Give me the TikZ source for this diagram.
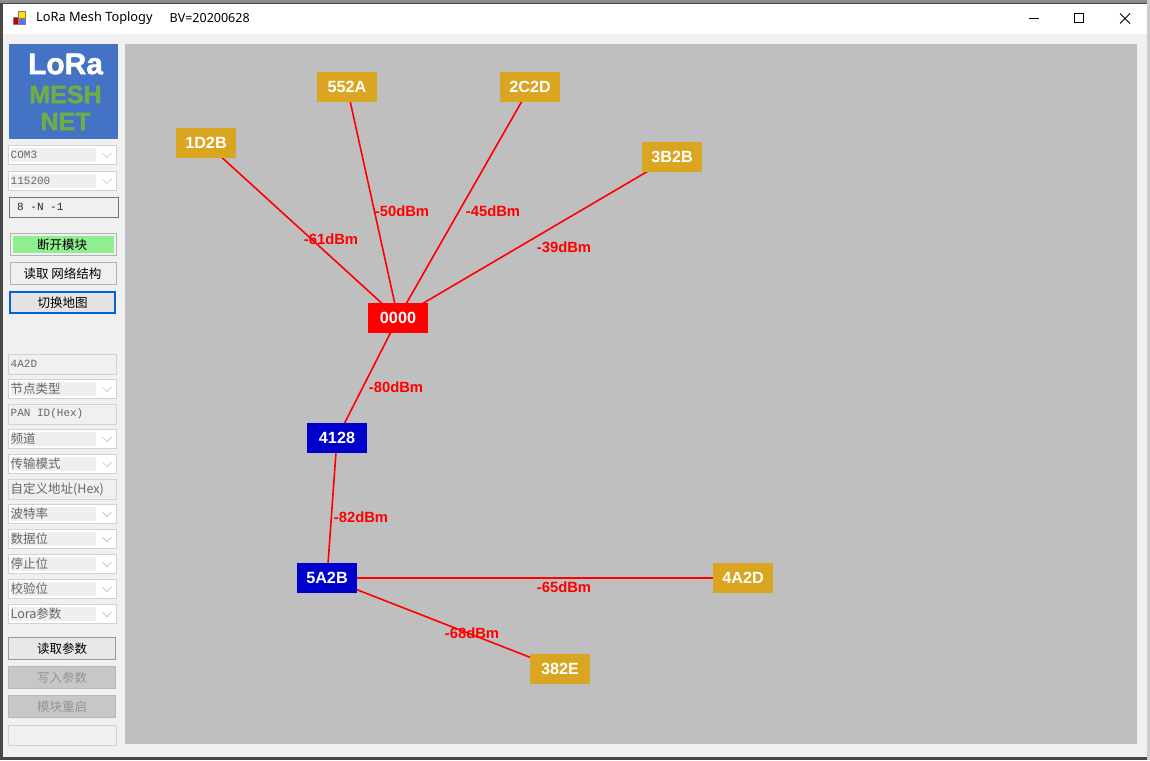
\documentclass[tikz,border=0pt]{standalone}
\usepackage{fontspec}
\setmainfont{Liberation Sans}
\newfontfamily\cjk{Noto Sans CJK SC}
\newfontfamily\monof{Liberation Mono}
\newfontfamily\titlef{Noto Sans}
\newfontfamily\logof[BoldFeatures={FakeBold=1.5}]{Liberation Sans}
\pgfdeclarelayer{chrome}
\pgfdeclarelayer{edges}
\pgfsetlayers{chrome,edges,main}
\definecolor{gold}{HTML}{DAA520}
\definecolor{navy}{HTML}{0000CD}
\definecolor{canvas}{HTML}{BFBFBF}
\definecolor{client}{HTML}{F0F0F0}
\definecolor{fieldline}{HTML}{D2D2D2}
\definecolor{fieldfill}{HTML}{EFEFEF}
\definecolor{logoblue}{HTML}{4472C4}
\definecolor{logogreen}{HTML}{70AD47}
\definecolor{lightgreen}{HTML}{90EE90}
\tikzset{
  netnode/.style={minimum width=60pt,minimum height=30pt,inner sep=0pt,text=white,font=\fontsize{16.2}{16}\selectfont\bfseries},
  leaf/.style={netnode,fill=gold},
  relay/.style={netnode,fill=navy},
  coord/.style={netnode,fill=red},
  link/.style={draw=red,line width=1.6pt},
  rssi/.style={text=red,inner sep=0pt,font=\fontsize{14.8}{14}\selectfont\bfseries},
  fieldtext/.style={anchor=west,inner sep=0pt,text=black!60,font=\fontsize{11}{12}\monof},
  cjktext/.style={anchor=west,inner sep=0pt,text=black!60,font=\fontsize{12.5}{13}\cjk},
  btntext/.style={inner sep=0pt,font=\fontsize{12.5}{13}\cjk},
  box/.style={draw=fieldline,line width=1pt,fill=client},
  combo/.style={draw=fieldline,line width=1pt,fill=white},
  chev/.style={draw=black!25,line width=.7pt}
}
\newcommand{\combobox}[3]{% y, text, style
  \draw[combo] (8.5,#1-9.5) rectangle (116,#1+9.5);
  \fill[fieldfill] (10.5,#1-7) rectangle (96,#1+7);
  \draw[chev] (102.5,#1-2) -- (107,#1+2.5) -- (111.5,#1-2);
  \node[#3] at (10.5,#1) {#2};}
\newcommand{\fieldbox}[2]{%
  \draw[box] (8.5,#1-10) rectangle (116,#1+10);
  \node[fieldtext] at (10.5,#1) {#2};}
\begin{document}
\begin{tikzpicture}[x=1pt,y=-1pt]
\useasboundingbox (0,0) rectangle (1150,760);
\begin{pgfonlayer}{chrome}
\fill[black!72] (0,0) rectangle (1150,760);
\fill[black!45] (0,0) rectangle (1150,3);
\fill[black!20] (1147,0) rectangle (1150,760);
\fill[client] (3,4) rectangle (1147,757);
\fill[white] (3,4) rectangle (1147,34);
% title bar
\fill[red!75!black] (13,17) rectangle (18,24);
\fill[yellow!85!orange] (18,11) rectangle (25,18);
\fill[blue!60] (19,19) rectangle (25,24);
\draw[black!50,line width=.6pt] (13,17) rectangle (18,24) (18,11) rectangle (25,18) (19,19) rectangle (25,24);
\node[anchor=west,inner sep=0pt,font=\fontsize{12.8}{13}\titlef] (wtitle) at (36,18.5) {LoRa Mesh Toplogy};
\node[anchor=west,inner sep=0pt,font=\fontsize{12.5}{13}\titlef] (wver) at (169.5,18.5) {BV=20200628};
\draw[line width=1pt] (1029,18.5) -- (1039,18.5);
\draw[line width=1pt] (1074.5,13.5) rectangle (1083.5,22.5);
\draw[line width=.8pt] (1120,13.5) -- (1130,23.5) (1130,13.5) -- (1120,23.5);
% canvas
\fill[canvas] (125,44) rectangle (1137,744);
% logo
\fill[logoblue] (9,44) rectangle (118,139);
\node[inner sep=0pt,text=white,font=\fontsize{30}{30}\logof\bfseries] (logoa) at (65.5,64) {LoRa};
\node[inner sep=0pt,text=logogreen,font=\fontsize{25}{25}\logof\bfseries] (logob) at (65.5,94.5) {MESH};
\node[inner sep=0pt,text=logogreen,font=\fontsize{25}{25}\logof\bfseries] (logoc) at (65.5,121.5) {NET};
% left controls
\combobox{155}{COM3}{fieldtext}
\combobox{181}{115200}{fieldtext}
\draw[black!55,line width=.8pt,fill=client] (9.5,197.5) rectangle (118.5,217.5);
\node[fieldtext,text=black!85] at (17,207) {8 -N -1};
\draw[black!30,line width=1.2pt,fill=client] (10.5,233.5) rectangle (116.5,255.5);
\fill[lightgreen] (13,236) rectangle (114,253);
\node[btntext] at (62,244.5) {断开模块};
\draw[black!30,line width=1.2pt,fill=black!6] (10.5,262.5) rectangle (116.5,284.5);
\node[btntext] at (62.5,273.5) {读取 网络结构};
\draw[blue!55!cyan!85!black,line width=1.8pt,fill=black!11] (10,292) rectangle (115,313);
\node[btntext] at (62.5,302.5) {切换地图};
\fieldbox{364}{4A2D}
\combobox{389}{节点类型}{cjktext}
\fieldbox{414}{PAN ID(Hex)}
\combobox{439}{频道}{cjktext}
\combobox{464}{传输模式}{cjktext}
\draw[box] (8.5,479.5) rectangle (116,499.5);
\node[cjktext] at (10.5,489.5) {自定义地址(Hex)};
\combobox{514}{波特率}{cjktext}
\combobox{539}{数据位}{cjktext}
\combobox{564}{停止位}{cjktext}
\combobox{589}{校验位}{cjktext}
\combobox{614}{Lora参数}{cjktext}
\draw[black!40,line width=1pt,fill=black!9] (8.5,637.5) rectangle (115,659.5);
\node[btntext] at (62,648.5) {读取参数};
\draw[black!28,line width=1pt,fill=black!22] (8.5,666.5) rectangle (115,688.5);
\node[btntext,text=black!42] at (62,677.5) {写入参数};
\draw[black!28,line width=1pt,fill=black!22] (8.5,695.5) rectangle (115,717.5);
\node[btntext,text=black!42] at (62,706.5) {模块重启};
\draw[box] (8.5,725.5) rectangle (116,745.5);
\end{pgfonlayer}
% network
\node[leaf] (n1D2B) at (206,143) {1D2B};
\node[leaf] (n552A) at (347,87) {552A};
\node[leaf] (n2C2D) at (530,87) {2C2D};
\node[leaf] (n3B2B) at (672,157) {3B2B};
\node[coord] (n0000) at (398,318) {0000};
\node[relay] (n4128) at (337,438) {4128};
\node[relay] (n5A2B) at (327,578) {5A2B};
\node[leaf] (n4A2D) at (743,578) {4A2D};
\node[leaf] (n382E) at (560,669) {382E};
\begin{pgfonlayer}{edges}
\draw[link] (n0000.center) -- (n1D2B.center);
\draw[link] (n0000.center) -- (n552A.center);
\draw[link] (n0000.center) -- (n2C2D.center);
\draw[link] (n0000.center) -- (n3B2B.center);
\draw[link] (n0000.center) -- (n4128.center);
\draw[link] (n4128.center) -- (n5A2B.center);
\draw[link] (n5A2B.center) -- (n4A2D.center);
\draw[link] (n5A2B.center) -- (n382E.center);
\end{pgfonlayer}
\node[rssi] (l1) at (331,239) {-61dBm};
\node[rssi] (l2) at (402,211) {-50dBm};
\node[rssi] (l3) at (493,211) {-45dBm};
\node[rssi] (l4) at (564,247) {-39dBm};
\node[rssi] (l5) at (396,387) {-80dBm};
\node[rssi] (l6) at (361,517) {-82dBm};
\node[rssi] (l7) at (564,587) {-65dBm};
\node[rssi] (l8) at (472,633) {-68dBm};
\end{tikzpicture}
\end{document}
